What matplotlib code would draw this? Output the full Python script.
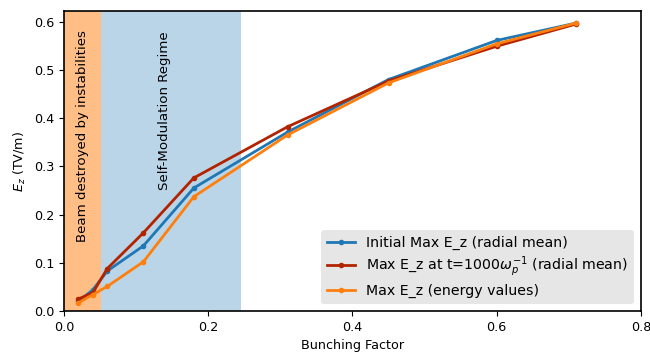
import matplotlib
matplotlib.use("Agg")
import matplotlib.pyplot as plt

bunching = [0.02, 0.04, 0.06, 0.11, 0.18, 0.31, 0.45, 0.60, 0.71]
ez_initial = [0.020, 0.044, 0.083, 0.135, 0.255, 0.371, 0.480, 0.561, 0.597]
ez_t1000 = [0.025, 0.038, 0.088, 0.162, 0.276, 0.382, 0.477, 0.549, 0.595]
ez_energy = [0.017, 0.034, 0.051, 0.102, 0.237, 0.365, 0.473, 0.554, 0.597]
x_ticks = [0.0, 0.2, 0.4, 0.6, 0.8]

unstable_region = (0.0, 0.051)
selfmod_region = (0.051, 0.245)

plt.rcParams['font.size'] = 9.2

fig = plt.figure(figsize=(6.5, 3.56), dpi=100)
ax = fig.add_axes([0.0985, 0.1264, 0.8875, 0.8426])

ax.axvspan(*unstable_region, color='#ff7f0e', alpha=0.5, lw=0)
ax.axvspan(*selfmod_region, color='#1f77b4', alpha=0.3, lw=0)
ax.text(0.025, 0.363, 'Beam destroyed by instabilities', rotation=90,
        ha='center', va='center', fontsize=9.6)
ax.text(0.14, 0.415, 'Self-Modulation Regime', rotation=90,
        ha='center', va='center', fontsize=9.6)

ax.plot(bunching, ez_initial, '.-', color='#1f77b4', lw=2, ms=6,
        label='Initial Max E_z (radial mean)')
ax.plot(bunching, ez_t1000, '.-', color='#b22400', lw=2, ms=6,
        label=r'Max E_z at t=1000$\omega_p^{-1}$ (radial mean)')
ax.plot(bunching, ez_energy, '.-', color='#ff7f0e', lw=2, ms=6,
        label='Max E_z (energy values)')

ax.set_xlim(0, 0.8)
ax.set_ylim(0, 0.622)
ax.set_xticks(x_ticks)
ax.set_xlabel('Bunching Factor')
ax.set_ylabel(r'$E_z$ (TV/m)')
for s in ax.spines.values():
    s.set_linewidth(1.2)
leg = ax.legend(loc='lower right', facecolor='#e6e6e6', edgecolor='none',
                framealpha=1, fancybox=True, fontsize=10.2, labelspacing=0.33)

fig.savefig('out.png', dpi=100)
